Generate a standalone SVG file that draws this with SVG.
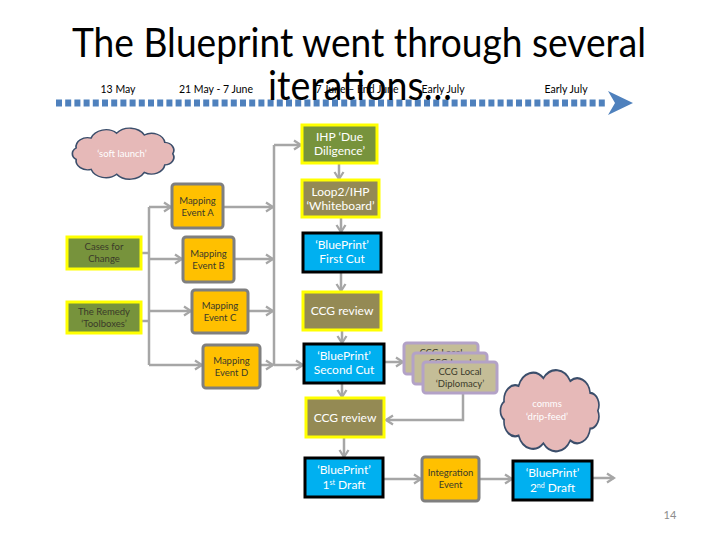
<svg xmlns="http://www.w3.org/2000/svg" width="720" height="540" viewBox="0 0 720 540">
<style>
  text { font-family: Lato, "Liberation Sans", sans-serif; }
  .title { font-size: 40px; fill: #000; text-anchor: middle; }
  .tl { font-size: 10.5px; fill: #000; text-anchor: middle; }
  .dark { font-size: 9.5px; fill: #3a3a2a; text-anchor: middle; }
  .white { font-size: 12px; fill: #fff; text-anchor: middle; }
  .cw { font-size: 9.5px; fill: #fff; text-anchor: middle; }
  .olive { fill: #77933c; stroke: #ffff00; stroke-width: 3; }
  .khaki { fill: #948a54; stroke: #ffff00; stroke-width: 3; }
  .blue { fill: #00b0f0; stroke: #000; stroke-width: 3; }
  .gold { fill: #ffc000; stroke: #7f7f7f; stroke-width: 3; }
  .tan { fill: #c4bd97; stroke: #b3a2c7; stroke-width: 3; }
  .cloud { fill: #e6b9b8; stroke: #3b4e6b; stroke-width: 1.5; }
  .conn { fill: none; stroke: #a6a6a6; stroke-width: 2.5; }
</style>
<defs>
  <marker id="ah" viewBox="0 0 10 12" markerWidth="10" markerHeight="12" refX="8.5" refY="6" orient="auto" markerUnits="userSpaceOnUse">
    <path d="M1.5,1.5 L8.5,6 L1.5,10.5" fill="none" stroke="#a6a6a6" stroke-width="2.3"/>
  </marker>
  <path id="cloudShape" d="M94,28 A8.6,8.6 0 0 1 86.9,40.5 A12,12 0 0 1 68.6,48.8 A15,15 0 0 1 43.9,50.8 A14,14 0 0 1 21.1,45.4 A10.4,10.4 0 0 1 7.7,34.3 A7.6,7.6 0 0 1 7.7,21.7 A10.4,10.4 0 0 1 21.1,10.6 A14,14 0 0 1 43.9,5.2 A15,15 0 0 1 68.6,7.2 A12,12 0 0 1 86.9,15.5 A8.6,8.6 0 0 1 94,28 Z"/>
</defs>
<rect width="720" height="540" fill="#fff"/>

<g id="timeline">
  <line x1="56" y1="103" x2="608" y2="103" stroke="#4f81bd" stroke-width="7" stroke-dasharray="6 3.2"/>
  <polygon points="608,91 633,103 608,115 615,103" fill="#4f81bd"/>
  <text class="tl" x="118" y="93">13 May</text>
  <text class="tl" x="216" y="93">21 May - 7 June</text>
  <text class="tl" x="357" y="93">7 June – End June</text>
  <text class="tl" x="443" y="93">Early July</text>
  <text class="tl" x="566" y="93">Early July</text>
</g>

<g id="title">
  <text class="title" x="359" y="57" textLength="574" lengthAdjust="spacingAndGlyphs">The Blueprint went through several</text>
  <text class="title" x="360" y="100" textLength="184" lengthAdjust="spacingAndGlyphs">iterations…</text>
</g>

<g id="connectors">
  <path class="conn" d="M141,253 H149"/>
  <path class="conn" d="M141,321 H149"/>
  <path class="conn" d="M149,207 V365"/>
  <path class="conn" marker-end="url(#ah)" d="M149,207 H171"/>
  <path class="conn" marker-end="url(#ah)" d="M149,259 H182"/>
  <path class="conn" marker-end="url(#ah)" d="M149,311 H191"/>
  <path class="conn" marker-end="url(#ah)" d="M149,365 H202"/>
  <path class="conn" marker-end="url(#ah)" d="M223,207 H273"/>
  <path class="conn" marker-end="url(#ah)" d="M234,259 H273"/>
  <path class="conn" marker-end="url(#ah)" d="M248,311 H273"/>
  <path class="conn" marker-end="url(#ah)" d="M260,365 H273"/>
  <path class="conn" d="M274,145 V365"/>
  <path class="conn" marker-end="url(#ah)" d="M274,145 H301"/>
  <path class="conn" marker-end="url(#ah)" d="M274,365 H303"/>
  <path class="conn" marker-end="url(#ah)" d="M339,163 V179"/>
  <path class="conn" marker-end="url(#ah)" d="M341,217 V232"/>
  <path class="conn" marker-end="url(#ah)" d="M341,272 V291"/>
  <path class="conn" marker-end="url(#ah)" d="M342,330 V343"/>
  <path class="conn" marker-end="url(#ah)" d="M342,383 V397"/>
  <path class="conn" marker-end="url(#ah)" d="M344,437 V457"/>
  <path class="conn" marker-end="url(#ah)" d="M385,362 H403"/>
  <path class="conn" marker-end="url(#ah)" d="M463,393 V420 H386"/>
  <path class="conn" marker-end="url(#ah)" d="M383,479 H421"/>
  <path class="conn" marker-end="url(#ah)" d="M479,479 H512"/>
  <path class="conn" marker-end="url(#ah)" d="M592,478 H614"/>
</g>

<g id="soft-launch">
  <use href="#cloudShape" class="cloud" transform="translate(67.5,128.5) scale(1.12,0.9)" vector-effect="non-scaling-stroke"/>
  <text class="cw" x="122" y="157">‘soft launch’</text>
</g>

<g id="cases-for-change">
  <rect class="olive" x="67" y="237" width="74" height="32"/>
  <text class="dark" x="104" y="250">Cases for</text>
  <text class="dark" x="104" y="262">Change</text>
</g>
<g id="the-remedy">
  <rect class="olive" x="67" y="302" width="74" height="31"/>
  <text class="dark" x="104" y="315">The Remedy</text>
  <text class="dark" x="104" y="327">‘Toolboxes’</text>
</g>

<g id="mapping-a">
  <rect class="gold" x="172" y="184" width="51" height="44" rx="3"/>
  <text class="dark" x="197.5" y="204">Mapping</text>
  <text class="dark" x="197.5" y="216">Event A</text>
</g>
<g id="mapping-b">
  <rect class="gold" x="183" y="237" width="51" height="45" rx="3"/>
  <text class="dark" x="208.5" y="257">Mapping</text>
  <text class="dark" x="208.5" y="269">Event B</text>
</g>
<g id="mapping-c">
  <rect class="gold" x="192" y="290" width="56" height="43" rx="3"/>
  <text class="dark" x="220" y="309">Mapping</text>
  <text class="dark" x="220" y="321">Event C</text>
</g>
<g id="mapping-d">
  <rect class="gold" x="203" y="345" width="57" height="43" rx="3"/>
  <text class="dark" x="231.5" y="364">Mapping</text>
  <text class="dark" x="231.5" y="376">Event D</text>
</g>

<g id="ihp-due-diligence">
  <rect class="olive" x="302" y="125" width="75" height="38"/>
  <text class="white" x="339.5" y="141">IHP ‘Due</text>
  <text class="white" x="339.5" y="155">Diligence’</text>
</g>
<g id="loop2-whiteboard">
  <rect class="khaki" x="302" y="180" width="77" height="37"/>
  <text class="white" x="340.5" y="196">Loop2/IHP</text>
  <text class="white" x="340.5" y="210">‘Whiteboard’</text>
</g>
<g id="blueprint-first-cut">
  <rect class="blue" x="303" y="233" width="78" height="39"/>
  <text class="white" x="342" y="249">‘BluePrint’</text>
  <text class="white" x="342" y="263">First Cut</text>
</g>
<g id="ccg-review-1">
  <rect class="khaki" x="303" y="292" width="78" height="38"/>
  <text class="white" x="342" y="315">CCG review</text>
</g>
<g id="blueprint-second-cut">
  <rect class="blue" x="304" y="344" width="80" height="39"/>
  <text class="white" x="344" y="360">‘BluePrint’</text>
  <text class="white" x="344" y="374">Second Cut</text>
</g>
<g id="ccg-local">
  <rect class="tan" x="404" y="343" width="74" height="31" rx="3"/>
  <text class="dark" x="441" y="356">CCG Local</text>
  <rect class="tan" x="413" y="353" width="74" height="31" rx="3"/>
  <text class="dark" x="450" y="366">CCG Local</text>
  <rect class="tan" x="423" y="362" width="74" height="31" rx="3"/>
  <text class="dark" x="460" y="375">CCG Local</text>
  <text class="dark" x="460" y="387">‘Diplomacy’</text>
</g>
<g id="ccg-review-2">
  <rect class="khaki" x="306" y="398" width="78" height="39"/>
  <text class="white" x="345" y="422">CCG review</text>
</g>
<g id="comms-drip-feed">
  <use href="#cloudShape" class="cloud" transform="translate(495.7,370.7) scale(1.087,1.43)" vector-effect="non-scaling-stroke"/>
  <text class="cw" x="547" y="407">comms</text>
  <text class="cw" x="547" y="420">‘drip-feed’</text>
</g>
<g id="blueprint-1st-draft">
  <rect class="blue" x="305" y="458" width="78" height="39"/>
  <text class="white" x="344" y="474">‘BluePrint’</text>
  <text class="white" x="344" y="489">1<tspan font-size="7" dy="-4">st</tspan><tspan dy="4"> Draft</tspan></text>
</g>
<g id="integration-event">
  <rect class="gold" x="422" y="457" width="57" height="44" rx="3"/>
  <text class="dark" x="450.5" y="476">Integration</text>
  <text class="dark" x="450.5" y="488">Event</text>
</g>
<g id="blueprint-2nd-draft">
  <rect class="blue" x="513" y="461" width="79" height="39"/>
  <text class="white" x="552.5" y="477">‘BluePrint’</text>
  <text class="white" x="552.5" y="492">2<tspan font-size="7" dy="-4">nd</tspan><tspan dy="4"> Draft</tspan></text>
</g>

<g id="page-number">
  <text x="670" y="519" font-size="11" fill="#8c8c8c" text-anchor="middle">14</text>
</g>
</svg>
